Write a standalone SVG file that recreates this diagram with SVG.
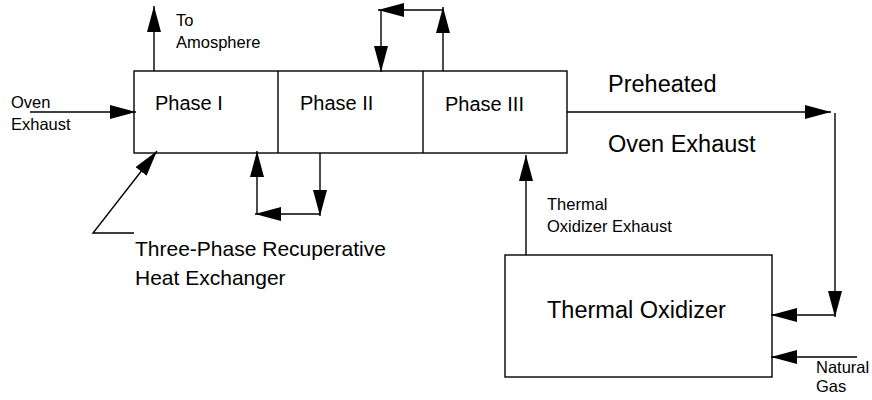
<svg xmlns="http://www.w3.org/2000/svg" width="872" height="400" viewBox="0 0 872 400">
<defs>
<marker id="ah" markerUnits="userSpaceOnUse" markerWidth="28" markerHeight="16" refX="26" refY="7" orient="auto" viewBox="0 0 28 16">
<path d="M0,0 L26,7 L0,14 z" fill="#000"/>
</marker>
<style>
.box{fill:#fff;stroke:#000;stroke-width:1.4}
.ln{fill:none;stroke:#000;stroke-width:1.4}
.arr{fill:none;stroke:#000;stroke-width:1.4;marker-end:url(#ah)}
text{font-family:"Liberation Sans",Arial,sans-serif;fill:#000}
.s{font-size:16.5px}
.m{font-size:20px}
.l{font-size:21px}
.xl{font-size:23.5px}
</style>
</defs>
<rect width="872" height="400" fill="#fff"/>
<g id="heat-exchanger">
<rect class="box" x="134" y="71" width="433" height="82"/>
<line class="ln" x1="278" y1="71" x2="278" y2="153"/>
<line class="ln" x1="423" y1="71" x2="423" y2="153"/>
<text class="m" x="155" y="110">Phase I</text>
<text class="m" x="300" y="110">Phase II</text>
<text class="m" x="445" y="111">Phase III</text>
</g>
<g id="thermal-oxidizer">
<rect class="box" x="505" y="255" width="267" height="122"/>
<text class="xl" x="547" y="318">Thermal Oxidizer</text>
</g>
<g id="connectors">
<line class="arr" x1="154" y1="71" x2="154" y2="6"/>
<line class="arr" x1="30" y1="112" x2="136" y2="112"/>
<line class="arr" x1="443" y1="71" x2="443" y2="7"/>
<line class="arr" x1="443" y1="10" x2="378" y2="10"/>
<line class="arr" x1="381" y1="10" x2="381" y2="72"/>
<line class="arr" x1="320" y1="153" x2="320" y2="216"/>
<line class="arr" x1="320" y1="214" x2="255" y2="214"/>
<line class="arr" x1="257" y1="214" x2="257" y2="151"/>
<polyline class="arr" points="134,233 93,233 157,151"/>
<line class="arr" x1="567" y1="112" x2="831" y2="112"/>
<line class="arr" x1="835" y1="113" x2="835" y2="317"/>
<line class="arr" x1="835" y1="315" x2="771" y2="315"/>
<line class="arr" x1="857" y1="357" x2="771" y2="357"/>
<line class="arr" x1="526" y1="255" x2="526" y2="155"/>
</g>
<g id="labels">
<text class="s" x="176" y="26">To</text>
<text class="s" x="176" y="48">Amosphere</text>
<text class="s" x="11" y="108">Oven</text>
<text class="s" x="11" y="130">Exhaust</text>
<text class="xl" x="608" y="92">Preheated</text>
<text class="xl" x="608" y="152">Oven Exhaust</text>
<text class="s" x="547" y="210">Thermal</text>
<text class="s" x="547" y="232">Oxidizer Exhaust</text>
<text class="s" x="816" y="373">Natural</text>
<text class="s" x="816" y="392">Gas</text>
<text class="l" x="135" y="256">Three-Phase Recuperative</text>
<text class="l" x="135" y="285">Heat Exchanger</text>
</g>
</svg>
